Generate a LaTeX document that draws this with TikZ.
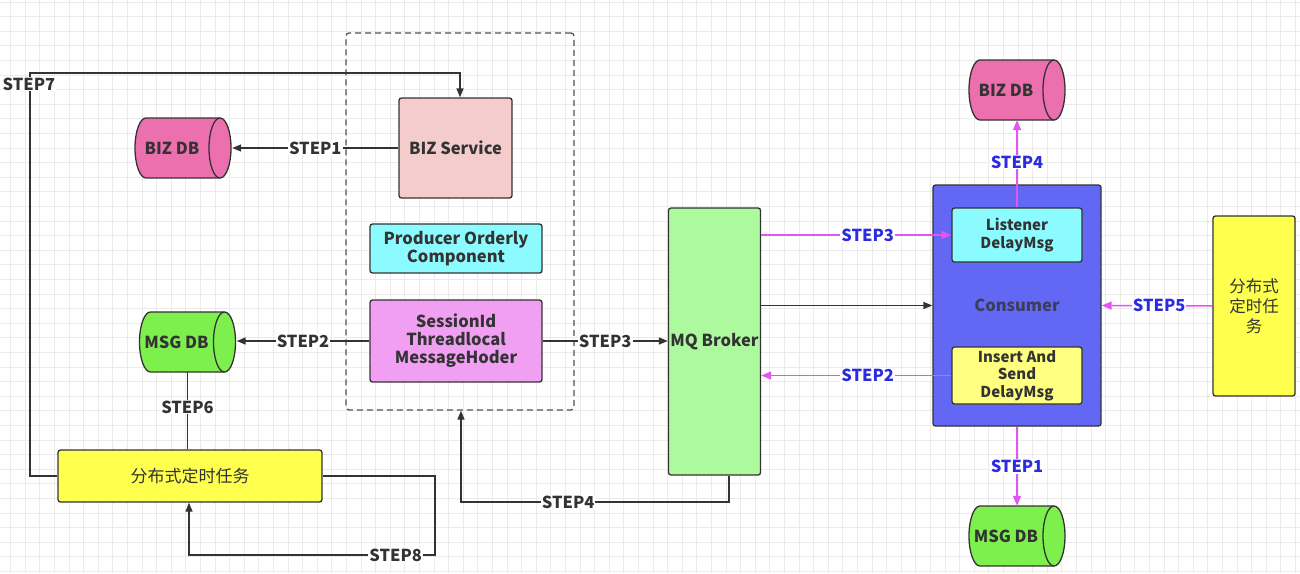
\documentclass[tikz,border=0pt]{standalone}
\usepackage{fontspec}
\setmainfont{Noto Sans CJK SC}
\usetikzlibrary{shapes.geometric,arrows.meta,positioning}
\definecolor{gridc}{HTML}{EBEBEB}
\definecolor{bizpink}{HTML}{F4CCCC}
\definecolor{dbpink}{HTML}{EC6FAE}
\definecolor{dbgreen}{HTML}{7EF04E}
\definecolor{cyanbox}{HTML}{8CFBFF}
\definecolor{violetbox}{HTML}{F09FF2}
\definecolor{yellowbox}{HTML}{FFFF4D}
\definecolor{paleyellow}{HTML}{FFFF80}
\definecolor{mqgreen}{HTML}{ADF99E}
\definecolor{consblue}{HTML}{6268F4}
\definecolor{magentaline}{HTML}{E255F0}
\definecolor{steplabel}{HTML}{2B2BE0}
\definecolor{inkc}{HTML}{333333}
\tikzset{
  box/.style={draw=inkc, line width=1.3pt, rounded corners=2.5pt, align=center, font=\bfseries\fontsize{16.5}{18}\selectfont, text=inkc, inner sep=2pt},
  dbframe/.style={rectangle, draw=none, minimum width=98pt, minimum height=60pt, inner sep=0pt},
  dbtext/.style={font=\bfseries\fontsize{16.5}{18}\selectfont, text=inkc, inner sep=0pt},
  conn/.style={draw=inkc, line width=1.3pt},
  arr/.style={conn, -{Triangle[length=9pt,width=7pt]}},
  marr/.style={draw=magentaline, line width=1.5pt, -{Triangle[length=10pt,width=8pt]}},
  lbl/.style={fill=white, inner sep=1pt, font=\bfseries\fontsize{16.5}{18}\selectfont, text=inkc},
  mlbl/.style={fill=white, inner sep=1pt, font=\bfseries\fontsize{16.5}{18}\selectfont, text=steplabel},
}
% horizontal database cylinder: name, x, y, colour, text
\newcommand\dbcyl[5]{%
  \path[fill=#4, draw=inkc, line width=1.3pt]
    (#2-37,#3-30) -- (#2+37,#3-30)
    arc[start angle=-90, end angle=90, x radius=11, y radius=30]
    -- (#2-37,#3+30)
    arc[start angle=90, end angle=270, x radius=11, y radius=30] -- cycle;
  \draw[inkc, line width=1.3pt] (#2+37,#3-30)
    arc[start angle=-90, end angle=-270, x radius=11, y radius=30];
  \node[dbframe] (#1) at (#2,#3) {};
  \node[dbtext] (#1-t) at ([xshift=-11pt]#1.center) {#5};
}
\begin{document}
\begin{tikzpicture}[x=1pt,y=-1pt]
\useasboundingbox (0,0) rectangle (1300,573);
\fill[white] (0,0) rectangle (1300,573);
\foreach \i in {0,...,90} {\draw[gridc, line width=0.8pt] ({\i*14.6-4},0) -- ({\i*14.6-4},573);}
\foreach \j in {0,...,40} {\draw[gridc, line width=0.8pt] (0,{\j*14.6+2}) -- (1300,{\j*14.6+2});}

% dashed container
\node[draw=inkc!85, line width=1.3pt, dashed, dash pattern=on 6pt off 4pt, rounded corners=3pt, minimum width=228pt, minimum height=377pt, inner sep=0pt] (grp) at (460,221.5) {};

% left-hand nodes
\node[box, fill=bizpink, minimum width=113pt, minimum height=100pt] (biz) at (455.5,148) {BIZ Service};
\node[box, fill=cyanbox, minimum width=172pt, minimum height=49pt] (poc) at (456,248.5) {Producer Orderly\\Component};
\node[box, fill=violetbox, minimum width=172pt, minimum height=82pt] (sess) at (456,341) {SessionId\\Threadlocal\\MessageHoder};
\dbcyl{bizdb}{183}{148}{dbpink}{BIZ DB}
\dbcyl{msgdb}{187.5}{342}{dbgreen}{MSG DB}
\node[box, fill=yellowbox, minimum width=264pt, minimum height=52pt, font=\fontsize{17}{18}\selectfont] (job) at (190,476) {分布式定时任务};

% middle / right nodes
\node[box, fill=mqgreen, minimum width=89pt, minimum height=267pt] (mq) at (714.5,341.5) {MQ Broker};
\node[box, fill=consblue, minimum width=168pt, minimum height=241pt, text=inkc!80!consblue] (cons) at (1017,305.5) {Consumer};
\node[box, fill=cyanbox, minimum width=130pt, minimum height=54pt, font=\bfseries\fontsize{15}{18}\selectfont] (lis) at (1017,235) {Listener\\DelayMsg};
\node[box, fill=paleyellow, minimum width=130pt, minimum height=57pt, inner sep=1pt, font=\bfseries\fontsize{15}{17.5}\selectfont] (ins) at (1017,375.5) {Insert And\\Send\\DelayMsg};
\node[box, fill=yellowbox, minimum width=82pt, minimum height=180pt, font=\fontsize{16.5}{20}\selectfont] (job2) at (1254,306) {分布式\\定时任\\务};
\dbcyl{bizdb2}{1017}{90}{dbpink}{BIZ DB}
\dbcyl{msgdb2}{1017}{536}{dbgreen}{MSG DB}

% black connectors
\coordinate (s7a) at (30,476);
\coordinate (s7b) at (30,73);
\coordinate (s7c) at (460,73);
\draw[arr] (job.west) -- (s7a) -- (s7b) -- (s7c) -- (biz.north -| s7c);
\node[lbl, anchor=center] (l7) at (29,84) {STEP7};

\draw[arr] (biz.west) -- node[lbl, pos=0.5] (l1) {STEP1} (bizdb.east);
\draw[arr] (sess.west) -- node[lbl, pos=0.5] (l2) {STEP2} (msgdb.east |- sess.west);
\draw[arr] (sess.east) -- node[lbl, pos=0.5] (l3) {STEP3} (mq.west |- sess.east);
\draw[conn] (msgdb.south) -- node[lbl, pos=0.45] (l6) {STEP6} (job.north -| msgdb.south);

\coordinate (s8a) at (435,476);
\coordinate (s8b) at (435,555);
\coordinate (s8c) at (189,555);
\draw[arr] (job.east) -- (s8a) -- (s8b) -- node[lbl, pos=0.16] (l8) {STEP8} (s8c) -- (job.south -| s8c);

\coordinate (s4a) at (729,502);
\coordinate (s4b) at (461,502);
\draw[arr] (mq.south -| s4a) -- (s4a) -- node[lbl, pos=0.6] (l4) {STEP4} (s4b) -- (grp.south -| s4b);

\draw[arr] (mq.east |- cons.west) -- (cons.west);

% magenta connectors
\draw[marr] (mq.east |- lis.west) -- node[mlbl, pos=0.56] (m3) {STEP3} (lis.west);
\draw[marr] (ins.west) -- node[mlbl, pos=0.44] (m2) {STEP2} (mq.east |- ins.west);
\draw[marr] (lis.north) -- node[mlbl, pos=0.52] (m4) {STEP4} (bizdb2.south);
\draw[marr] (cons.south) -- node[mlbl, pos=0.5] (m1) {STEP1} (msgdb2.north);
\draw[marr] (job2.west) -- node[mlbl, pos=0.48] (m5) {STEP5} (cons.east);
\end{tikzpicture}
\end{document}
